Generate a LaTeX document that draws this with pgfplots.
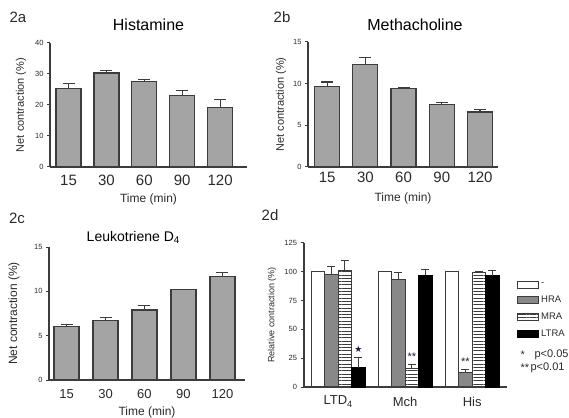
\documentclass[border=0pt]{standalone}
\usepackage{fontspec}
\setmainfont{Liberation Sans}
\newfontfamily\symfont{DejaVu Sans}
\usepackage{pgfplots}
\pgfplotsset{compat=1.18}
\usetikzlibrary{patterns.meta}

\definecolor{edge}{HTML}{3C3C3C}
\definecolor{barfill}{HTML}{A4A4A4}
\definecolor{hra}{HTML}{888888}
\definecolor{txt}{HTML}{2A2A2A}
\definecolor{stars}{HTML}{1C1C3A}

\newcommand{\fs}[1]{\fontsize{#1}{#1}\selectfont}

\pgfplotsset{
  panel/.style={
    scale only axis, anchor=south west,
    axis x line*=bottom, axis y line*=left,
    axis line style={edge, line width=1.2pt},
    tick align=outside, major tick length=3pt,
    ytick style={edge, line width=1pt},
    xtick style={draw=none},
    yticklabel style={font=\fs{7.5}, text=txt},
    /pgf/number format/assume math mode=true,
    ymin=0, clip=false,
    title style={font=\fs{16}, text=black, anchor=center, yshift=-6pt},
  },
  timepanel/.style={
    panel, ybar, bar width=25pt,
    xtick={0,...,4}, xticklabels={15,30,60,90,120},
    xticklabel style={font=\fs{15}, text=txt, anchor=center, inner sep=0pt},
    xlabel={Time (min)},
    xlabel style={font=\fs{12}, text=txt, inner sep=0pt,
      at={(axis description cs:0.5,0)}, anchor=center},
    ylabel={Net contraction (\%)},
    ylabel style={font=\fs{11}, text=txt, anchor=center},
  },
  timebar/.style={
    fill=barfill, draw=edge, line width=1.2pt,
    error bars/y dir=plus, error bars/y explicit,
    error bars/error bar style={edge, line width=1.1pt},
    error bars/error mark options={rotate=90, edge, mark size=6pt, line width=1.1pt},
  },
  grpbar/.style={
    draw=edge, line width=1.1pt,
    error bars/y dir=plus, error bars/y explicit,
    error bars/error bar style={edge, line width=1pt},
    error bars/error mark options={rotate=90, edge, mark size=4pt, line width=1pt},
  },
  boxlegend/.style={
    legend image code/.code={\draw[##1, line width=1pt] (0pt,-3.5pt) rectangle (21pt,3.5pt);},
  },
}

\begin{document}
\begin{tikzpicture}
\useasboundingbox (0pt,0pt) rectangle (569pt,417pt);

% panel labels
\node[font=\fs{15}, text=txt] at (18pt,400pt) {2a};
\node[font=\fs{15}, text=txt] at (282pt,400pt) {2b};
\node[font=\fs{15}, text=txt] at (17pt,199pt) {2c};
\node[font=\fs{15}, text=txt] at (270pt,202pt) {2d};

% 2a Histamine
\begin{axis}[timepanel, at={(50pt,250pt)}, width=197pt, height=124pt,
  xmin=-0.49, xmax=4.71, ymax=40, ytick={0,10,...,40},
  title={Histamine}, title style={at={(axis description cs:0.5,1.145)}},
  xticklabel style={yshift=-10pt},
  xlabel style={yshift=-32pt},
  ylabel style={at={(axis description cs:-0.147,0.5)}}]
\addplot[timebar] table[x=x, y=y, y error=e] {
x y e
0 25.2 1.8
1 30.3 0.8
2 27.5 0.8
3 23.1 1.6
4 19.3 2.4
};
\end{axis}

% 2b Methacholine
\begin{axis}[timepanel, at={(308pt,250pt)}, width=190pt, height=125pt,
  xmin=-0.5, xmax=4.47, ymax=15, ytick={0,5,10,15},
  title={Methacholine}, title style={at={(axis description cs:0.563,1.136)}},
  xticklabel style={yshift=-7pt},
  xlabel style={yshift=-31pt},
  ylabel style={at={(axis description cs:-0.142,0.5)}}]
\addplot[timebar] table[x=x, y=y, y error=e] {
x y e
0 9.7 0.5
1 12.3 0.8
2 9.4 0.12
3 7.5 0.2
4 6.6 0.3
};
\end{axis}

% 2c Leukotriene D4
\begin{axis}[timepanel, at={(49pt,37pt)}, width=196pt, height=133pt,
  xmin=-0.45, xmax=4.58, ymax=15, ytick={0,5,10,15},
  title={Leukotriene D\textsubscript{4}},
  title style={font=\fs{14}, at={(axis description cs:0.43,1.075)}},
  xticklabel style={font=\fs{13}, yshift=-11pt},
  xlabel style={yshift=-32pt},
  ylabel style={font=\fs{12}, at={(axis description cs:-0.179,0.5)}}]
\addplot[timebar] table[x=x, y=y, y error=e] {
x y e
0 6.0 0.3
1 6.7 0.3
2 7.9 0.5
3 10.2 0.05
4 11.7 0.4
};
\end{axis}

% 2d antagonists
\begin{axis}[panel, at={(304pt,30pt)}, width=203pt, height=144pt,
  ybar=0pt, bar width=13.5pt,
  xmin=-0.51, xmax=2.52, ymax=125, ytick={0,25,...,125},
  xtick={0,1,2}, xticklabels={LTD\textsubscript{4},Mch,His},
  xtick style={edge, line width=1pt}, major tick length=3.5pt,
  xticklabel style={font=\fs{13}, text=txt, anchor=center, inner sep=0pt, yshift=-11pt},
  ylabel={Relative contraction (\%)},
  ylabel style={font=\fs{9}, text=txt, anchor=center, at={(axis description cs:-0.158,0.5)}},
  legend style={at={(axis description cs:1.049,0.738)}, anchor=north west,
    draw=none, fill=none, inner sep=0pt, font=\fs{9.5}, text=txt,
    row sep=4.8pt, cells={anchor=west}},
  legend cell align=left]
\addplot[grpbar, fill=white, boxlegend] table[x=x, y=y, y error=e] {
x y e
0 100 0
1 100 0
2 100 0
};
\addlegendentry{-}
\addplot[grpbar, fill=hra, boxlegend] table[x=x, y=y, y error=e] {
x y e
0 98 6.5
1 93 6.4
2 12.2 2.9
};
\addlegendentry{HRA}
\addplot[grpbar, fill=white, pattern={Lines[angle=0, distance=3.3pt, line width=1pt]}, pattern color=edge, boxlegend] table[x=x, y=y, y error=e] {
x y e
0 101 8.6
1 16 3.5
2 99.7 0.9
};
\addlegendentry{MRA}
\addplot[grpbar, fill=black, draw=black, boxlegend] table[x=x, y=y, y error=e] {
x y e
0 16.6 8.7
1 96.8 5.5
2 96.5 4.5
};
\addlegendentry{LTRA}
\node[font=\symfont\fs{9}, text=stars] at (axis cs:0.302,33) {★};
\node[font=\fs{11}, text=stars] at (axis cs:1.10,26) {**};
\node[font=\fs{11}, text=stars] at (axis cs:1.90,22) {**};
\end{axis}

% significance key
\node[font=\fs{11}, text=txt, anchor=west] at (517pt,62pt) {*};
\node[font=\fs{11}, text=txt, anchor=west] at (531pt,62pt) {p<0.05};
\node[font=\fs{11}, text=txt, anchor=west] at (517pt,49pt) {**};
\node[font=\fs{11}, text=txt, anchor=west] at (527pt,49pt) {p<0.01};
\end{tikzpicture}
\end{document}
